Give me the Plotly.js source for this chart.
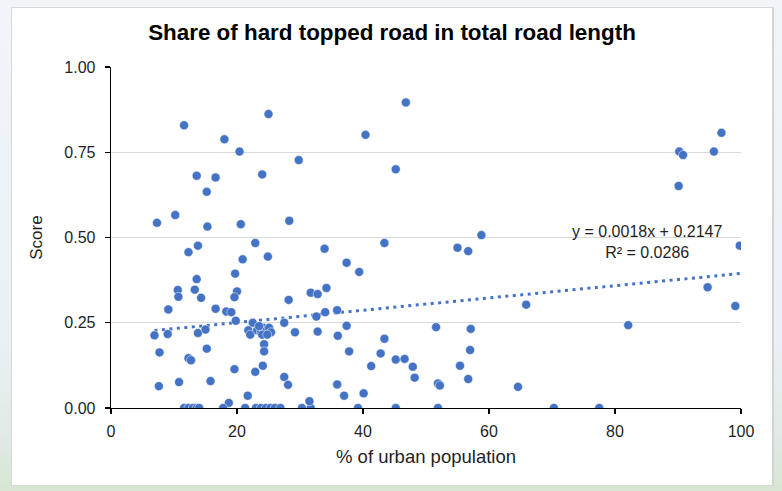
<!DOCTYPE html>
<html>
<head>
<meta charset="utf-8">
<script src="https://cdn.plot.ly/plotly-3.0.1.min.js"></script>
<style>
  html, body { margin: 0; padding: 0; }
  body {
    width: 782px; height: 491px; overflow: hidden; position: relative;
    background: linear-gradient(180deg, #f1f5fa 0%, #eaf0f6 70%, #dfe9e4 90%, #d6e6d2 100%);
  }
  #chart {
    position: absolute; left: 11px; top: 7px; width: 760px; height: 477px;
    background: #ffffff; border: 1px solid #d9d9d9; border-right: 2px solid #d4d4d4;
  }
</style>
</head>
<body>
<div id="chart"></div>
<script>
// % of urban population
const urbanPct = [
  11.6, 25.0, 18.0, 20.4, 13.6, 16.6, 24.0, 15.2, 7.3, 10.2,
  15.3, 20.6, 22.9, 13.8, 12.3, 24.9, 20.9, 19.7, 13.6, 10.6,
  13.3, 20.0, 10.7, 14.3, 19.6, 9.1, 16.6, 18.3, 19.1, 19.8,
  22.5, 6.9, 9.0, 13.8, 15.0, 21.8, 22.1,
  23.2, 23.8, 24.2, 24.7, 25.1, 25.4, 24.0, 24.8, 23.5,
  24.3, 24.3, 15.2, 7.7, 12.3, 12.7, 19.6, 24.1, 22.9, 7.6,
  10.8, 15.8, 21.7, 18.7, 17.8,
  11.6, 12.3, 13.0, 13.6, 14.0, 21.3, 23.0, 23.8, 24.6, 25.3,
  26.0, 26.9, 30.3, 31.7, 39.2, 45.2, 51.9, 70.3, 77.5,
  43.4, 33.9, 55.0, 37.4, 39.4, 31.7, 32.8, 34.2, 28.2, 34.0,
  35.9, 32.6, 27.5, 37.4, 29.2, 32.8, 36.0, 51.6, 43.4, 37.8,
  42.8, 45.2, 46.6, 47.9, 48.2, 41.3, 55.4, 27.5, 28.1, 35.9,
  51.9, 52.2, 37.0, 40.1, 31.5,
  46.8, 40.4, 29.8, 45.2, 28.3,
  58.8, 90.2, 90.8, 95.7, 96.9, 90.1,
  56.7, 99.8, 94.7, 99.1, 65.9, 82.1, 57.1, 57.0, 56.7, 64.6
];
// Score
const score = [
  0.829, 0.862, 0.788, 0.752, 0.681, 0.676, 0.685, 0.634, 0.543, 0.566,
  0.532, 0.539, 0.484, 0.476, 0.457, 0.444, 0.436, 0.394, 0.378, 0.346,
  0.347, 0.342, 0.326, 0.323, 0.325, 0.289, 0.291, 0.283, 0.281, 0.256,
  0.250, 0.213, 0.217, 0.220, 0.230, 0.228, 0.215,
  0.228, 0.222, 0.235, 0.228, 0.235, 0.222, 0.215, 0.215, 0.240,
  0.187, 0.166, 0.174, 0.163, 0.146, 0.140, 0.114, 0.124, 0.106, 0.064,
  0.076, 0.079, 0.036, 0.015, 0.000,
  0, 0, 0, 0, 0, 0, 0, 0, 0, 0,
  0, 0, 0, 0, 0, 0, 0, 0, 0,
  0.484, 0.467, 0.470, 0.426, 0.399, 0.338, 0.334, 0.352, 0.317, 0.281,
  0.287, 0.268, 0.250, 0.241, 0.222, 0.224, 0.212, 0.237, 0.203, 0.166,
  0.160, 0.142, 0.144, 0.121, 0.089, 0.123, 0.124, 0.091, 0.068, 0.069,
  0.072, 0.066, 0.036, 0.043, 0.020,
  0.896, 0.801, 0.727, 0.700, 0.549,
  0.507, 0.752, 0.742, 0.752, 0.807, 0.651,
  0.460, 0.476, 0.354, 0.299, 0.303, 0.243, 0.232, 0.170, 0.085, 0.062
];
// Trendline as stated on the chart
const trendSlope = 0.0018;
const trendIntercept = 0.2147;
const trendLabel = ["y = 0.0018x + 0.2147", "R² = 0.0286"];
const chartTitle = "Share of hard topped road in total road length";
const xTitle = "% of urban population";
const yTitle = "Score";
const xTicks = [0, 20, 40, 60, 80, 100];
const yTicks = [0, 0.25, 0.5, 0.75, 1.0];

const xMin = Math.min(...urbanPct), xMax = Math.max(...urbanPct);
const trendX = [xMin, xMax];
const trendY = trendX.map(v => trendSlope * v + trendIntercept);

const blue = '#4472C4';
const font = 'Liberation Sans, Arial, sans-serif';
const txt = '#1f1f1f';

const traces = [
  {
    x: trendX, y: trendY, type: 'scatter', mode: 'lines',
    line: { color: blue, width: 3, dash: '3px,4.5px' },
    hoverinfo: 'skip', showlegend: false
  },
  {
    x: urbanPct, y: score, type: 'scatter', mode: 'markers',
    marker: { color: blue, size: 9, line: { color: '#ffffff', width: 0.5 } },
    showlegend: false
  }
];

const layout = {
  width: 760, height: 477,
  margin: { l: 99, r: 31, t: 59, b: 77 },
  paper_bgcolor: '#ffffff', plot_bgcolor: '#ffffff',
  font: { family: font, color: txt },
  title: {
    text: '<b>' + chartTitle + '</b>',
    font: { family: font, size: 22.4, color: '#000000' },
    x: 0.5, xanchor: 'center', xref: 'container',
    y: 1 - 24 / 477, yref: 'container', yanchor: 'middle'
  },
  xaxis: {
    range: [0, 100], tickvals: xTicks, ticktext: xTicks.map(String),
    showgrid: false, zeroline: false,
    showline: true, linecolor: '#000000', linewidth: 1.3,
    ticks: 'outside', ticklen: 5, tickcolor: '#000000', tickwidth: 1.3,
    tickfont: { family: font, size: 16, color: txt },
    ticklabelstandoff: 3,
    title: { text: xTitle, font: { family: font, size: 18.5, color: txt }, standoff: 11 }
  },
  yaxis: {
    range: [0, 1], tickvals: yTicks, ticktext: yTicks.map(v => v.toFixed(2)),
    showgrid: true, gridcolor: '#d9d9d9', gridwidth: 1.3, zeroline: false,
    showline: true, linecolor: '#000000', linewidth: 1.3,
    ticks: 'outside', ticklen: 5, tickcolor: '#000000', tickwidth: 1.3,
    tickfont: { family: font, size: 16, color: txt },
    ticklabelstandoff: 6,
    title: { text: yTitle, font: { family: font, size: 17, color: txt }, standoff: 17 }
  },
  annotations: [
    {
      x: 85.0, y: 0.487, xref: 'x', yref: 'y', xanchor: 'center', yanchor: 'middle',
      text: trendLabel.join('<br>'), showarrow: false, align: 'center',
      font: { family: font, size: 16, color: txt }
    }
  ]
};

Plotly.newPlot('chart', traces, layout, { displayModeBar: false, staticPlot: true });
</script>
</body>
</html>
